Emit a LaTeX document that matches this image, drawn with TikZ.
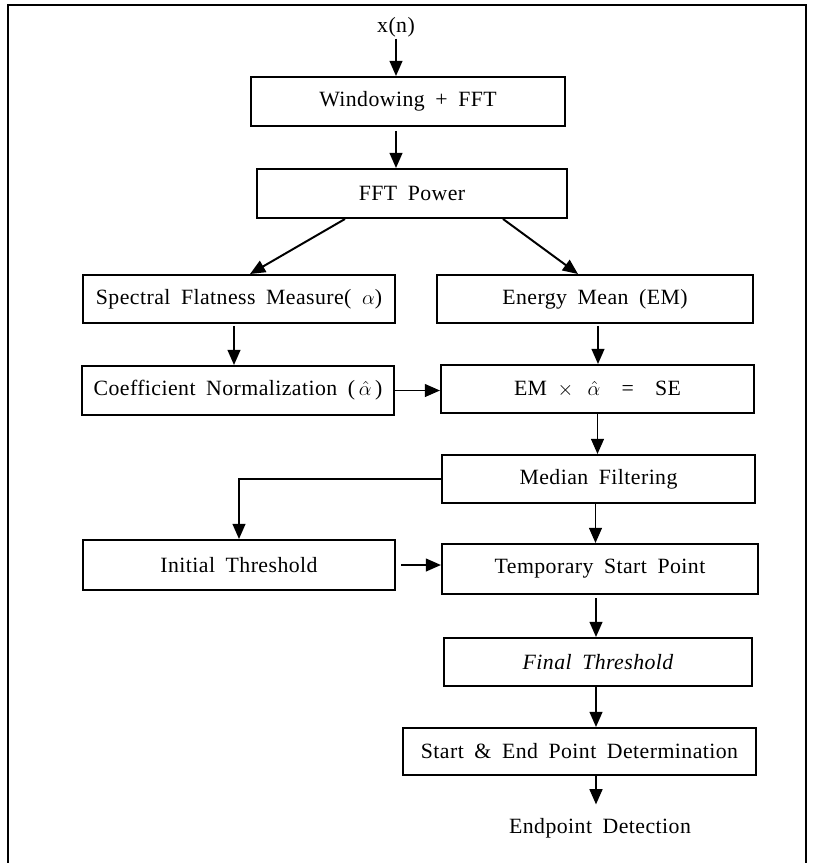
\documentclass[tikz,border=0pt]{standalone}
\usepackage{fontspec}
\setmainfont{Liberation Serif}[LetterSpace=2,WordSpace=1.8]
\usetikzlibrary{arrows.meta}

\begin{document}
\begin{tikzpicture}[x=0.025cm, y=-0.025cm,
	box/.style = {draw, line width=1.4pt, inner sep=0pt, minimum height=1.2cm,
		font=\fontsize{15.5}{18}\selectfont},
	lbl/.style = {inner sep=1pt, font=\fontsize{15.5}{18}\selectfont},
	arr/.style = {-{Triangle[length=0.38cm, width=0.32cm]}, line width=1.4pt}]
			\useasboundingbox (0,0) rectangle (812,863);
			\draw[line width=1.4pt] (8,863) -- (8,5) -- (806,5) -- (806,863);
			
			\node[lbl] (xn) at (396,27) {x(n)};
			\node[box, minimum width=7.85cm, minimum height=1.225cm] (win) at (408,101.5) {Windowing + FFT};
			\node[box, minimum width=7.75cm, minimum height=1.225cm] (pow) at (412,193.5) {FFT Power};
			
			\node[box, minimum width=7.8cm] (sfm) at (239,299) {Spectral Flatness Measure( $\alpha$)};
			\node[box, minimum width=7.9cm] (em) at (595,299) {Energy Mean (EM)};
			\node[box, minimum width=7.8cm, minimum height=1.225cm] (coef) at (238,390.5) {Coefficient Normalization (\,$\hat{\alpha}$\,)};
			\node[box, minimum width=7.825cm] (se) at (597.5,389) {EM $\times$ \,$\hat{\alpha}$ \ = \ SE};
			
			\node[box, minimum width=7.825cm] (med) at (598.5,479) {Median Filtering};
			\node[box, minimum width=7.8cm, minimum height=1.25cm] (init) at (239,565) {Initial Threshold};
			\node[box, minimum width=7.9cm, minimum height=1.25cm] (tmp) at (600,569) {Temporary Start Point};
			\node[box, minimum width=7.7cm] (fin) at (598,662) {\itshape Final Threshold};
			\node[box, minimum width=8.825cm, minimum height=1.175cm] (sed) at (579.5,751.5) {Start \& End Point Determination};
			\node[lbl] (out) at (600,828) {Endpoint Detection};
			
			\draw[arr] (xn) -- (xn |- win.north);
			\draw[arr] (xn |- win.south) ++(0,4) -- (xn |- pow.north);
			\draw[arr] ([xshift=-1.675cm]pow.south) -- ([xshift=0.275cm]sfm.north);
			\draw[arr] ([xshift=2.275cm]pow.south) -- ([xshift=-0.425cm]em.north);
			\draw[arr] ([xshift=-0.125cm]sfm.south) ++(0,2) -- ([xshift=-0.125cm]sfm.south |- coef.north);
			\draw[arr] ([xshift=0.075cm]em.south) ++(0,2) -- ([xshift=0.075cm]em.south |- se.north);
			\draw[arr] (coef.east) -- (coef.east -| se.west);
			\draw[arr] (se.south) -- (se.south |- med.north);
			\draw[arr] (med.west) -| (init.north);
			\draw[arr] ([xshift=-0.075cm]med.south) -- ([xshift=-0.075cm]med.south |- tmp.north);
			\draw[arr] ([xshift=0.125cm]init.east) -- (init.east -| tmp.west);
			\draw[arr] ([xshift=-0.1cm]tmp.south) ++(0,3) -- ([xshift=-0.1cm]tmp.south |- fin.north);
			\draw[arr] ([xshift=-0.05cm]fin.south) -- ([xshift=-0.05cm]fin.south |- sed.north);
			\draw[arr] ([xshift=-0.05cm]fin.south |- sed.south) -- ([xshift=-0.05cm,yshift=0.3cm]fin.south |- out.north);
\end{tikzpicture}
\end{document}
